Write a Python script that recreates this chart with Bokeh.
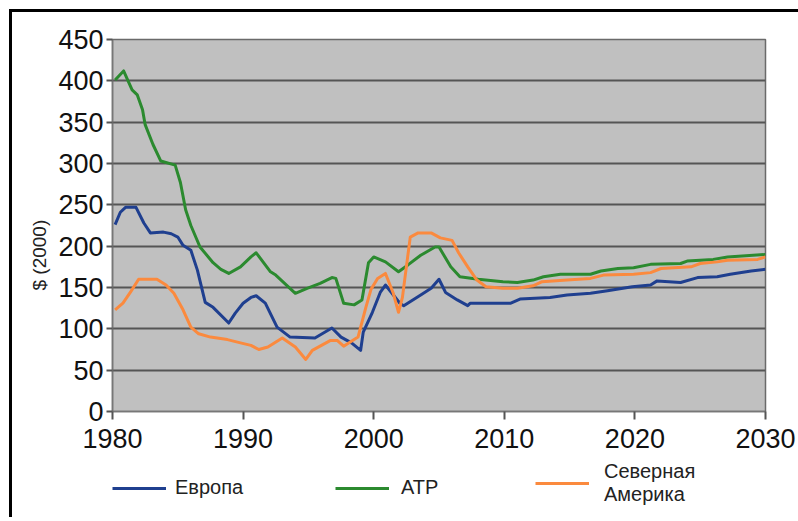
from bokeh.plotting import figure
from bokeh.layouts import column
from bokeh.models import Range1d, FixedTicker, Legend, LegendItem, Title
from bokeh.embed import file_html
from bokeh.resources import INLINE

# ---- data ----
eu_years = [1980.2, 1980.6, 1981.0, 1981.8, 1982.4, 1982.9, 1983.9, 1984.5, 1985.0, 1985.4,
            1986.0, 1986.5, 1987.1, 1987.7, 1988.9, 1989.4, 1990.0, 1990.6, 1991.0, 1991.7,
            1992.6, 1993.6, 1995.5, 1996.8, 1997.5, 1998.3, 1999.0, 1999.2, 1999.9, 2000.5,
            2000.9, 2001.4, 2002.0, 2002.3, 2003.6, 2004.4, 2005.0, 2005.5, 2006.4, 2007.2,
            2007.4, 2010.5, 2011.2, 2013.5, 2014.8, 2016.6, 2017.9, 2019.8, 2021.2, 2021.7,
            2023.5, 2024.8, 2026.3, 2027.3, 2028.9, 2030.0]
eu_vals = [226, 241, 247, 247, 228, 216, 217, 215, 211, 201,
           195, 171, 132, 126, 107, 119, 131, 138, 140, 131,
           102, 90, 89, 101, 90, 83, 74, 96, 120, 144,
           153, 143, 131, 128, 141, 149, 160, 144, 135, 128,
           131, 131, 136, 138, 141, 143, 146, 151, 153, 158,
           156, 162, 163, 166, 170, 172]

apr_years = [1980.2, 1980.85, 1981.5, 1981.9, 1982.3, 1982.5, 1983.1, 1983.7, 1984.8, 1985.2,
             1985.6, 1986.0, 1986.7, 1987.7, 1988.3, 1988.9, 1989.8, 1990.6, 1991.0, 1992.1,
             1992.5, 1994.0, 1994.9, 1995.9, 1996.8, 1997.1, 1997.7, 1998.5, 1999.1, 1999.6,
             2000.0, 2000.9, 2001.9, 2002.6, 2003.6, 2004.7, 2005.0, 2005.9, 2006.6, 2008.0,
             2009.9, 2011.0, 2012.2, 2013.0, 2014.3, 2016.6, 2017.4, 2018.7, 2019.9, 2021.2,
             2023.5, 2024.0, 2026.0, 2027.1, 2030.0]
apr_vals = [401, 412, 389, 383, 365, 347, 323, 303, 298, 277,
            244, 225, 199, 180, 172, 167, 175, 187, 192, 169,
            165, 143, 149, 155, 162, 161, 131, 129, 135, 180,
            187, 181, 169, 177, 189, 199, 199, 175, 163, 160,
            157, 156, 159, 163, 166, 166, 170, 173, 174, 178,
            179, 182, 184, 187, 190]

na_years = [1980.2, 1980.8, 1981.4, 1982.0, 1983.4, 1984.1, 1984.7, 1985.4, 1986.0, 1986.6,
            1987.5, 1988.8, 1989.8, 1990.6, 1991.2, 1991.9, 1993.0, 1994.0, 1994.8, 1995.3,
            1996.7, 1997.2, 1997.7, 1998.8, 1999.4, 1999.8, 2000.3, 2000.9, 2001.5, 2001.9,
            2002.2, 2002.6, 2002.8, 2003.4, 2004.4, 2005.1, 2006.0, 2006.5, 2007.2, 2007.9,
            2008.6, 2009.9, 2011.0, 2012.2, 2012.9, 2014.8, 2016.6, 2017.6, 2019.9, 2021.2,
            2022.0, 2024.3, 2025.0, 2026.3, 2027.1, 2029.4, 2030.0]
na_vals = [123, 131, 145, 160, 160, 153, 143, 123, 102, 94,
           90, 87, 83, 80, 75, 78, 89, 78, 63, 74,
           86, 86, 79, 90, 126, 148, 161, 167, 143, 120,
           138, 187, 211, 216, 216, 210, 207, 192, 175, 159,
           151, 149, 149, 152, 157, 159, 161, 165, 166, 168,
           173, 175, 179, 181, 183, 184, 187]

x_ticks = [1980, 1990, 2000, 2010, 2020, 2030]
y_ticks = [0, 50, 100, 150, 200, 250, 300, 350, 400, 450]
series_names = ["Европа", "АТР", "Северная\nАмерика"]
series_colors = ["#1f3f8f", "#2b8a2f", "#fb8a3e"]
y_title = "$ (2000)"

FONT = "Liberation Sans"
NAN = float("nan")

# ---- main chart ----
p = figure(width=786, height=449, output_backend="svg", toolbar_location=None,
           x_range=Range1d(1980, 2030), y_range=Range1d(0, 450),
           min_border_left=100, min_border_right=33, min_border_top=27, min_border_bottom=50)

p.background_fill_color = "#c0c0c0"
p.border_fill_color = "white"
p.outline_line_color = "#6a6a6a"
p.outline_line_width = 1.5

p.xgrid.grid_line_color = None
p.ygrid.grid_line_color = "#555555"
p.ygrid.grid_line_width = 2

p.xaxis.ticker = FixedTicker(ticks=x_ticks)
p.yaxis.ticker = FixedTicker(ticks=y_ticks)
for ax in (p.xaxis[0], p.yaxis[0]):
    ax.axis_line_color = "#777777"
    ax.axis_line_width = 1.5
    ax.major_tick_line_color = "#555555"
    ax.major_tick_line_width = 2
    ax.minor_tick_line_color = None
    ax.major_tick_in = 0
    ax.major_label_text_font = FONT
    ax.major_label_text_font_size = "27px"
    ax.major_label_text_color = "#111111"
p.xaxis.major_tick_out = 8
p.xaxis.major_label_standoff = 9
p.yaxis.major_tick_out = 6
p.yaxis.major_label_standoff = 3

r_eu = p.line(eu_years, eu_vals, line_color=series_colors[0], line_width=3, line_join="round")
r_apr = p.line(apr_years, apr_vals, line_color=series_colors[1], line_width=3, line_join="round")
r_na = p.line(na_years, na_vals, line_color=series_colors[2], line_width=3, line_join="round")

ytitle = Title(text=y_title, align="left", offset=121, standoff=12,
               text_font=FONT, text_font_size="19px", text_font_style="normal",
               text_color="#222222")
p.add_layout(ytitle, "left")

# ---- legend strip (separate figure, legends only) ----
lf = figure(width=786, height=56, output_backend="svg", toolbar_location=None,
            x_axis_type=None, y_axis_type=None, min_border=0,
            x_range=Range1d(0, 1), y_range=Range1d(0, 1))
lf.outline_line_color = None
lf.xgrid.grid_line_color = None
lf.ygrid.grid_line_color = None
lf.background_fill_color = "white"
lf.border_fill_color = "white"

dummies = [lf.line([NAN], [NAN], line_color=c, line_width=3) for c in series_colors]
locs = [(0, 18), (223, 18), (423, 11)]
standoffs = [9, 12, 15]
for name, r, loc, so in zip(series_names, dummies, locs, standoffs):
    lg = Legend(items=[LegendItem(label=name, renderers=[r])], location=loc,
                orientation="horizontal", border_line_alpha=0, background_fill_alpha=0,
                padding=0, margin=0, glyph_width=54, glyph_height=20, label_standoff=so,
                label_text_font=FONT, label_text_font_size="20px", label_text_color="#222222")
    lf.add_layout(lg, "center")

layout = column(p, lf, spacing=0,
                styles={"border-left": "3px solid #000", "border-top": "3px solid #000",
                        "margin-left": "9px", "margin-top": "9px"})

open("out.html", "w").write(file_html(layout, INLINE))
